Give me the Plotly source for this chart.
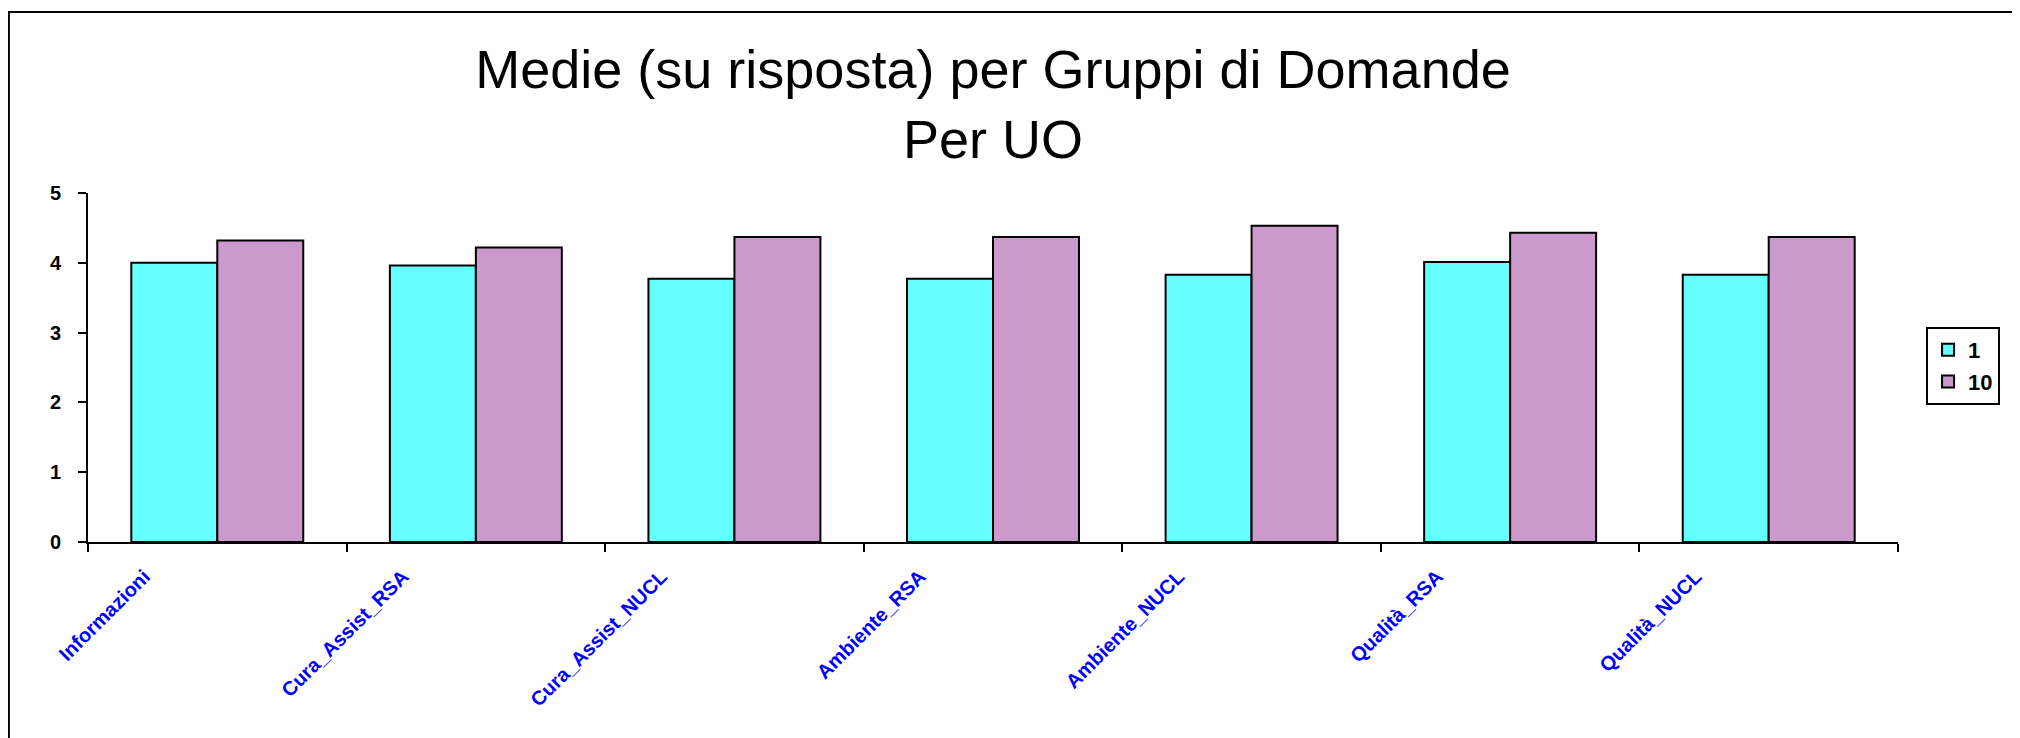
import plotly.graph_objects as go

categories = ["Informazioni", "Cura_Assist_RSA", "Cura_Assist_NUCL", "Ambiente_RSA",
              "Ambiente_NUCL", "Qualità_RSA", "Qualità_NUCL"]
serie_1 = [4.00, 3.96, 3.77, 3.77, 3.83, 4.01, 3.83]
serie_10 = [4.32, 4.22, 4.37, 4.37, 4.53, 4.43, 4.37]
series_names = ["1", "10"]
y_ticks = [0, 1, 2, 3, 4, 5]

FONT = "Liberation Sans, Arial, sans-serif"
W, H = 2012, 730

fig = go.Figure()
fig.add_trace(go.Bar(x=categories, y=serie_1, name=series_names[0],
                     marker=dict(color="#66FFFF", line=dict(color="black", width=2))))
fig.add_trace(go.Bar(x=categories, y=serie_10, name=series_names[1],
                     marker=dict(color="#CC99CC", line=dict(color="black", width=2))))

fig.update_layout(
    width=W, height=H,
    paper_bgcolor="white", plot_bgcolor="white",
    margin=dict(l=80, r=122, t=185, b=196, autoexpand=False),
    barmode="group", bargap=0.335, bargroupgap=0,
    title=dict(text="Medie (su risposta) per Gruppi di Domande<br>Per UO",
               x=0.5, xref="paper", xanchor="center",
               y=1 - 80 / H, yref="container", yanchor="middle",
               font=dict(family=FONT, size=54, color="black")),
    legend=dict(x=1.0155, xanchor="left", y=0.616, yanchor="top",
                bordercolor="black", borderwidth=2, bgcolor="white",
                font=dict(family=FONT, size=22, color="black", weight="bold"),
                traceorder="normal", entrywidth=45),
    showlegend=True,
    shapes=[dict(type="rect", xref="paper", yref="paper",
                 x0=-0.0437, x1=1.2, y0=-0.7, y1=1.5186,
                 line=dict(color="black", width=2), fillcolor="rgba(0,0,0,0)", layer="below")],
)

fig.update_xaxes(
    type="category", showline=True, linecolor="black", linewidth=2,
    ticks="outside", tickson="boundaries", ticklen=8, tickwidth=2, tickcolor="black",
    tickangle=-45, showgrid=False, zeroline=False,
    tickfont=dict(family=FONT, size=20, color="#0000FF", weight="bold"),
    ticklabelshift=-73, ticklabelstandoff=13,
)
fig.update_yaxes(
    range=[0, 5], tickvals=y_ticks, showline=True, linecolor="black", linewidth=2,
    ticks="outside", ticklen=8, tickwidth=2, tickcolor="black",
    showgrid=False, zeroline=False,
    tickfont=dict(family=FONT, size=20, color="black", weight="bold"),
    ticklabelstandoff=13,
)

fig.write_html("out.html")
